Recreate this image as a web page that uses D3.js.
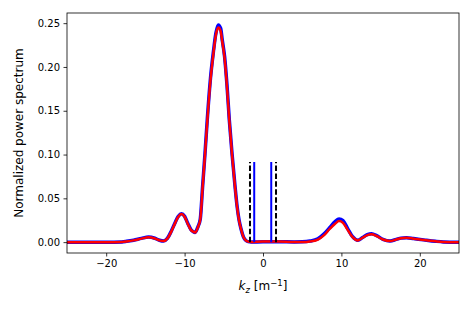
<!DOCTYPE html>
<html>
<head>
<meta charset="utf-8">
<script src="https://cdn.jsdelivr.net/npm/d3@7"></script>
<style>
  body { margin: 0; background: #fff; }
  svg text { font-family: "DejaVu Sans", sans-serif; fill: #000; }
</style>
</head>
<body>
<div id="chart"></div>
<script>
// wavenumber samples (m^-1)
var kz = [-25, -20, -18, -17.4, -16.5, -15.5, -14.6, -13.8, -13.2, -12.7, -12.2, -11.7, -11.2, -10.8, -10.4, -10.0, -9.6, -9.2, -8.9, -8.66,
  -8.3, -8.0, -7.7, -7.4, -7.1, -6.7, -6.33, -6.0, -5.7, -5.4, -5.2, -4.9, -4.6, -4.3, -3.95, -3.57, -3.3, -3.06, -2.8, -2.5,
  -2.2, -1.9, -1.5, 0, 2, 4, 5, 6, 7, 7.8, 8.5, 9.2, 9.7, 10.2, 10.8, 11.4, 12.1, 12.7, 13.3, 13.85,
  14.5, 15.3, 16.2, 17, 17.6, 18.3, 19.2, 20.5, 22, 23, 25];

var redVals = [0, 0, 0.0003, 0.0008, 0.002, 0.004, 0.0055, 0.0042, 0.002, 0.0012, 0.004, 0.012, 0.022, 0.029, 0.032, 0.029, 0.021, 0.014, 0.012, 0.011,
  0.017, 0.026, 0.063, 0.1, 0.139, 0.185, 0.215, 0.237, 0.245, 0.241, 0.229, 0.21, 0.178, 0.139, 0.1, 0.063, 0.04, 0.025, 0.015, 0.006,
  0.002, 0.0006, 0.0002, 0.0006, 0.0006, 0.0002, 0.0002, 0.0008, 0.003, 0.008, 0.015, 0.021, 0.024, 0.022, 0.014, 0.006, 0.002, 0.005, 0.008, 0.009,
  0.007, 0.003, 0.0012, 0.003, 0.0045, 0.005, 0.004, 0.0025, 0.001, 0.0003, 0];

var blueVals = [0, 0, 0.0003, 0.0009, 0.0022, 0.0043, 0.0058, 0.0044, 0.0021, 0.0012, 0.0042, 0.0125, 0.0225, 0.0295, 0.0325, 0.0295, 0.0215, 0.0145, 0.012, 0.011,
  0.0175, 0.0265, 0.064, 0.101, 0.141, 0.187, 0.217, 0.239, 0.248, 0.244, 0.231, 0.212, 0.18, 0.14, 0.101, 0.064, 0.0405, 0.0255, 0.015, 0.006,
  0.002, 0.0006, 0.0002, 0.0004, 0.0004, 0.0003, 0.0004, 0.0012, 0.0038, 0.0095, 0.0165, 0.0235, 0.0265, 0.0245, 0.0155, 0.0065, 0.0022, 0.0053, 0.0086, 0.0097,
  0.0074, 0.0032, 0.0013, 0.0031, 0.0046, 0.0051, 0.0041, 0.0026, 0.001, 0.0003, 0];

// vertical marker lines
var blueMarks = [-1.12, 1.05];
var dashMarks = [-1.66, 1.66];
var markTop = 0.0915;

var xTicks = [-20, -10, 0, 10, 20];
var yTicks = [0, 0.05, 0.10, 0.15, 0.20, 0.25];

var W = 472, H = 310;
var margin = { left: 67, right: 13, top: 13, bottom: 57 };
var width = W - margin.left - margin.right;
var height = H - margin.top - margin.bottom;

var svg = d3.select("#chart").append("svg").attr("width", W).attr("height", H);

var xs = d3.scaleLinear().domain([-25, 25]).range([0, width]);
var ys = d3.scaleLinear().domain([-0.0124, 0.2616]).range([height, 0]);

var g = svg.append("g").attr("transform", "translate(" + margin.left + "," + margin.top + ")");

g.append("defs").append("clipPath").attr("id", "clip")
  .append("rect").attr("width", width).attr("height", height);

var plot = g.append("g").attr("clip-path", "url(#clip)");

var line = d3.line()
  .x(function (d) { return xs(d[0]); })
  .y(function (d) { return ys(d[1]); })
  .curve(d3.curveMonotoneX);

plot.append("path")
  .datum(kz.map(function (k, i) { return [k, blueVals[i]]; }))
  .attr("fill", "none").attr("stroke", "#0000ff").attr("stroke-width", 3.5)
  .attr("stroke-linejoin", "round")
  .attr("d", line);

plot.append("path")
  .datum(kz.map(function (k, i) { return [k, redVals[i]]; }))
  .attr("fill", "none").attr("stroke", "#ff0000").attr("stroke-width", 2.5)
  .attr("stroke-linejoin", "round")
  .attr("d", line);

plot.selectAll(".dash").data(dashMarks).enter().append("line")
  .attr("x1", function (d) { return xs(d); }).attr("x2", function (d) { return xs(d); })
  .attr("y1", ys(0)).attr("y2", ys(markTop))
  .attr("stroke", "#000").attr("stroke-width", 2).attr("stroke-dasharray", "5.5,2.4");

plot.selectAll(".bmark").data(blueMarks).enter().append("line")
  .attr("x1", function (d) { return xs(d); }).attr("x2", function (d) { return xs(d); })
  .attr("y1", ys(0)).attr("y2", ys(markTop))
  .attr("stroke", "#0000ff").attr("stroke-width", 2);

// axes
var xAxis = g.append("g")
  .attr("transform", "translate(0," + height + ")")
  .call(d3.axisBottom(xs).tickValues(xTicks).tickSize(3.5).tickPadding(3.5)
    .tickFormat(function (d) { return d < 0 ? "\u2212" + Math.abs(d) : d; }));

var yAxis = g.append("g")
  .call(d3.axisLeft(ys).tickValues(yTicks).tickSize(3.5).tickPadding(3.5).tickFormat(d3.format(".2f")));

[xAxis, yAxis].forEach(function (a) {
  a.select(".domain").remove();
  a.selectAll("line").attr("stroke", "#000").attr("stroke-width", 0.8);
  a.selectAll("text").style("font-size", "10px").attr("fill", "#000");
});

g.append("rect").attr("width", width).attr("height", height)
  .attr("fill", "none").attr("stroke", "#000").attr("stroke-width", 0.8);

// labels
var xl = svg.append("text")
  .attr("x", margin.left + width / 2).attr("y", 290)
  .attr("text-anchor", "middle").style("font-size", "12px");
xl.append("tspan").text("k").style("font-style", "italic");
xl.append("tspan").text("z").style("font-style", "italic").style("font-size", "8.5px").attr("dy", 2.5);
xl.append("tspan").text(" [m").attr("dy", -2.5);
xl.append("tspan").text("\u22121").style("font-size", "8.5px").attr("dy", -4.5);
xl.append("tspan").text("]").attr("dy", 4.5);

svg.append("text")
  .attr("transform", "translate(22.5," + (margin.top + height / 2) + ") rotate(-90)")
  .attr("text-anchor", "middle").style("font-size", "12px")
  .text("Normalized power spectrum");
</script>
</body>
</html>
